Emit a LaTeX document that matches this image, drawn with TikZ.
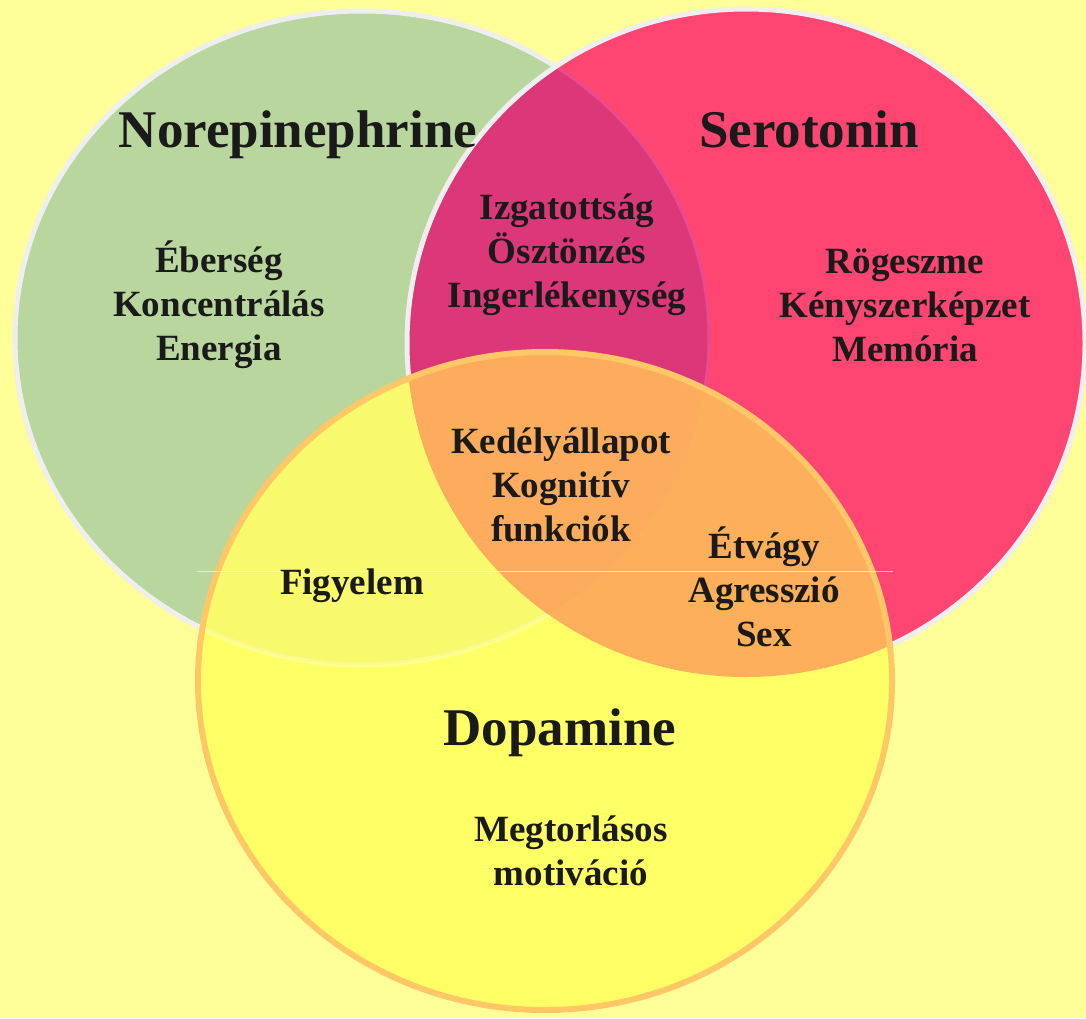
\documentclass[tikz,border=0pt]{standalone}
\usepackage{fontspec}
\setmainfont{Liberation Serif}
\usepackage{xcolor}
\usepackage{tikz}

\definecolor{bgyellow}{HTML}{FFFF99}
\definecolor{norgreen}{HTML}{B8D69E}
\definecolor{serred}{HTML}{FF4571}
\definecolor{nsmagenta}{HTML}{DC3778}
\definecolor{nsedge}{HTML}{EC4A8E}
\definecolor{dopyellow}{HTML}{FFFF66}
\definecolor{ndyellow}{HTML}{F8F96C}
\definecolor{sdorange}{HTML}{FEAF5B}
\definecolor{allorange}{HTML}{FCAC5C}
\definecolor{rimgray}{HTML}{EFEFEF}
\definecolor{rimorange}{HTML}{FFC766}
\definecolor{inkblack}{HTML}{1A1A1A}

% the three ellipses
\newcommand{\norpath}{(362,338) ellipse [x radius=347, y radius=327]}
\newcommand{\serpath}{(746,343) ellipse [x radius=339, y radius=334]}
\newcommand{\doppath}{(545,681) ellipse [x radius=347, y radius=329]}

\begin{document}
\begin{tikzpicture}[x=1pt,y=-1pt,
	rim/.style={line width=5pt},
	title/.style={font=\fontsize{53}{60}\selectfont\bfseries,text=inkblack},
	item/.style={font=\fontsize{37}{44}\selectfont\bfseries,text=inkblack,align=center}]
		\useasboundingbox (0,0) rectangle (1086,1018);
		\fill[bgyellow] (0,0) rectangle (1086,1018);
		%
		\fill[norgreen] \norpath;
		\draw[rim,rimgray] \norpath;
		\fill[serred] \serpath;
		\begin{scope}
			\clip \serpath;
			\fill[nsmagenta] \norpath;
			\draw[line width=3pt,nsedge] \norpath;
		\end{scope}
		\draw[rim,rimgray] \serpath;
		%
		\fill[dopyellow] \doppath;
		\begin{scope}
			\clip \doppath;
			\fill[ndyellow] \norpath;
			\draw[rim,white,opacity=0.25] \norpath;
			\fill[sdorange] \serpath;
			\clip \serpath;
			\fill[allorange] \norpath;
		\end{scope}
		\draw[rim,rimorange,line width=6pt] \doppath;
		\draw[white,opacity=0.6,line width=1pt] (197,571) -- (893,571);
		%
		\node[title,anchor=base] (nor) at (298,147) {Norepinephrine};
		\node[title,anchor=base] (ser) at (809,147) {Serotonin};
		\node[title,anchor=base] (dop) at (560,745) {Dopamine};
		%
		\node[item] (norit) at (219,305) {Éberség\\Koncentrálás\\Energia};
		\node[item] (nsit) at (567,255) {Izgatottság\\Ösztönzés\\Ingerlékenység};
		\node[item] (serit) at (905,305) {Rögeszme\\Kényszerképzet\\Memória};
		\node[item] (allit) at (561,485) {Kedélyállapot\\Kognitív\\funkciók};
		\node[item] (sdit) at (764,587) {Étvágy\\Agresszió\\Sex};
		\node[item,anchor=base] (ndit) at (352,594) {Figyelem};
		\node[item] (dopit) at (571,851) {Megtorlásos\\motiváció};
\end{tikzpicture}
\end{document}
